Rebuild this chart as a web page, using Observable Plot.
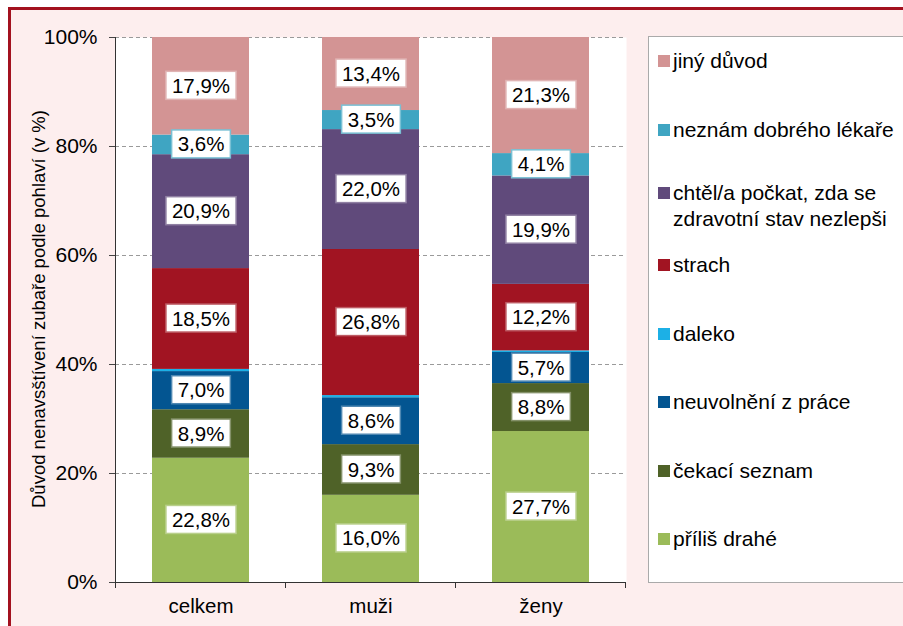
<!DOCTYPE html>
<html><head><meta charset="utf-8">
<script src="https://cdn.jsdelivr.net/npm/d3@7"></script>
<script src="https://cdn.jsdelivr.net/npm/@observablehq/plot@0.6"></script>
<style>
body{margin:0;}
#wrap{position:relative;width:903px;height:626px;overflow:hidden;background:#fff;font-family:"Liberation Sans",Arial,sans-serif;color:#000;}
#frame{position:absolute;left:8px;top:7px;width:1000px;height:1000px;border-left:3px solid #a3111f;border-top:3px solid #a3111f;background:#fdeeee;}
#chart{position:absolute;left:0;top:0;}
#ytitle{position:absolute;left:39px;top:309px;transform:translate(-50%,-50%) rotate(-90deg);white-space:nowrap;font-size:18.5px;}
#legend{position:absolute;left:648px;top:36px;width:300px;height:545px;background:#fff;border:1.5px solid #aaa;}
.li{position:absolute;left:0;font-size:21px;line-height:26px;white-space:pre;}
.sw{position:absolute;width:12px;height:12px;}
</style></head>
<body>
<div id="wrap">
  <div id="frame"></div>
  <div id="chart"></div>
  <div id="ytitle">Důvod nenavsštívení zubaře podle pohlaví (v %)</div>
  <div id="legend"></div>
</div>
<script>
const categories = ["celkem", "muži", "ženy"];
const series = ["příliš drahé", "čekací seznam", "neuvolnění z práce", "daleko", "strach", "chtěl/a počkat, zda se zdravotní stav nezlepši", "neznám dobrého lékaře", "jiný důvod"];
const colors = ["#9bbb59", "#4f6228", "#035591", "#1cb0e6", "#a11422", "#604a7b", "#3fa5c2", "#d39494"];
const celkem = [22.8, 8.9, 7.0, 0.4, 18.5, 20.9, 3.6, 17.9];
const muzi = [16.0, 9.3, 8.6, 0.4, 26.8, 22.0, 3.5, 13.4];
const zeny = [27.7, 8.8, 5.7, 0.3, 12.2, 19.9, 4.1, 21.3];
const yTicks = [0, 0.2, 0.4, 0.6, 0.8, 1];

const valuesByCat = [celkem, muzi, zeny];
const data = [];
categories.forEach((c, ci) => series.forEach((s, si) => data.push({cat: c, series: s, value: valuesByCat[ci][si]})));
const colorOf = s => colors[series.indexOf(s)];
const fmt = v => v.toFixed(1).replace(".", ",") + "%";

const plot = Plot.plot({
  width: 650, height: 626,
  marginLeft: 115, marginRight: 24, marginTop: 37, marginBottom: 44,
  style: {background: "transparent", fontFamily: "'Liberation Sans', Arial, sans-serif", fontSize: "20px", color: "#000"},
  x: {domain: categories, paddingInner: 0.43, paddingOuter: 0.215, label: null},
  y: {domain: [0, 1], label: null},
  color: {domain: series, range: colors},
  marks: [
    Plot.frame({fill: "white", stroke: null}),
    Plot.gridY(yTicks.slice(1), {stroke: "#9a9a9a", strokeOpacity: 1, strokeDasharray: "4,3"}),
    Plot.barY(data, Plot.stackY({x: "cat", y: "value", fill: "series", order: series, offset: "normalize"})),
    Plot.text(data, Plot.stackY({x: "cat", y: "value", z: "series", order: series, offset: "normalize",
      text: d => d.series === "daleko" ? null : fmt(d.value), fill: "#000", fontSize: 20.5, className: "lbl"})),
    Plot.axisY({ticks: yTicks, tickFormat: d => Math.round(d * 100) + "%", tickSize: 6, tickPadding: 12, label: null, stroke: "#444", fontSize: 21}),
    Plot.axisX({tickSize: 0, tickPadding: 16, label: null, fontSize: 20.5}),
    Plot.ruleY([0], {stroke: "#333"})
  ]
});
document.getElementById("chart").append(plot);

// label boxes
const svg = d3.select(plot);
svg.selectAll("g.lbl text").each(function() {
  const i = d3.select(this).datum();
  const b = this.getBBox();
  const c = colorOf(data[i].series);
  d3.select(this.parentNode).insert("rect", () => this)
    .attr("transform", this.getAttribute("transform"))
    .attr("x", b.x - 6).attr("y", b.y + b.height / 2 - 14)
    .attr("width", b.width + 12).attr("height", 28)
    .attr("fill", "#fff")
    .attr("stroke", d3.interpolateRgb(c, "#fff")(0.3))
    .attr("stroke-width", 1.5);
});

// axis lines and category boundary ticks
const xs = plot.scale("x"), ys = plot.scale("y");
const y0 = ys.apply(0), y1 = ys.apply(1);
const gap = (xs.step - xs.bandwidth) / 2;
const bounds = categories.map(c => xs.apply(c) - gap).concat([xs.apply(categories[categories.length - 1]) + xs.bandwidth + gap]);
const g = svg.append("g").attr("stroke", "#333").attr("stroke-width", 1);
g.append("line").attr("x1", bounds[0]).attr("x2", bounds[0]).attr("y1", y1).attr("y2", y0);
bounds.forEach(bx => g.append("line").attr("x1", bx).attr("x2", bx).attr("y1", y0).attr("y2", y0 + 6));

// legend
const legend = document.getElementById("legend");
const legendCenters = [60, 129, 192, 264, 333, 401, 470, 538];
series.slice().reverse().forEach((s, k) => {
  const top = legendCenters[k] - 36 - 13;
  const item = document.createElement("div");
  item.className = "li";
  item.style.top = top + "px";
  item.style.left = "24px";
  item.textContent = s.replace("zda se ", "zda se\n");
  const sw = document.createElement("div");
  sw.className = "sw";
  sw.style.background = colorOf(s);
  sw.style.left = "9px";
  sw.style.top = (top + 7) + "px";
  legend.append(sw, item);
});
</script>
</body></html>
